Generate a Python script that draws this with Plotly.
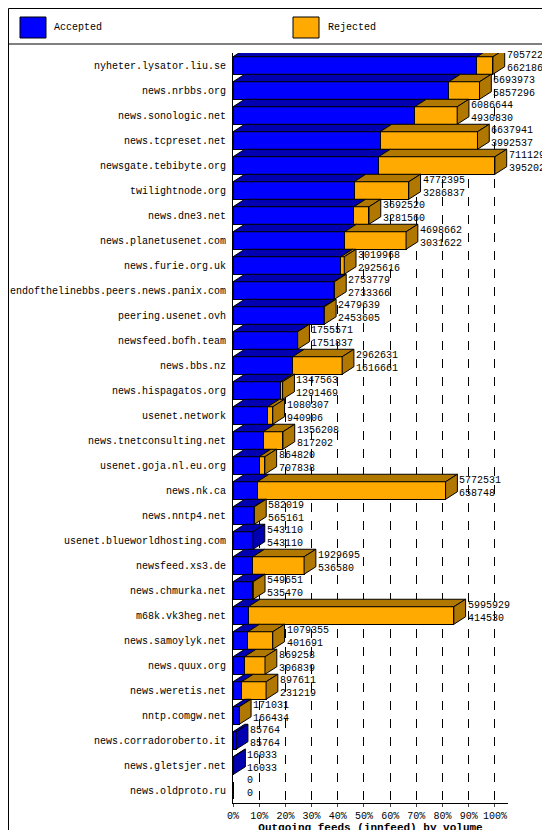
import plotly.graph_objects as go

names = ["nyheter.lysator.liu.se","news.nrbbs.org","news.sonologic.net","news.tcpreset.net","newsgate.tebibyte.org","twilightnode.org","news.dne3.net","news.planetusenet.com","news.furie.org.uk","endofthelinebbs.peers.news.panix.com","peering.usenet.ovh","newsfeed.bofh.team","news.bbs.nz","news.hispagatos.org","usenet.network","news.tnetconsulting.net","usenet.goja.nl.eu.org","news.nk.ca","news.nntp4.net","usenet.blueworldhosting.com","newsfeed.xs3.de","news.chmurka.net","m68k.vk3heg.net","news.samoylyk.net","news.quux.org","news.weretis.net","nntp.comgw.net","news.corradoroberto.it","news.gletsjer.net","news.oldproto.ru"]
total = [7057222,6693973,6086644,6637941,7111292,4772395,3692520,4698662,3019968,2753779,2479639,1755571,2962631,1347563,1080307,1356208,864820,5772531,582019,543110,1929695,549651,5995929,1079355,869258,897611,171031,85764,16033,0]
accepted = [6621860,5857296,4930830,3992537,3952021,3286837,3281560,3031622,2925616,2733366,2453605,1751837,1616661,1291469,940906,817202,707838,658748,565161,543110,536580,535470,414530,401691,306839,231219,166434,85764,16033,0]

mx = max(total)
acc_p = [a / mx * 100 for a in accepted]
rej_p = [(t - a) / mx * 100 for t, a in zip(total, accepted)]
tot_p = [t / mx * 100 for t in total]
idx = list(range(len(names)))
FONT = "Liberation Mono"
BLUE, BLUE_D = "#0000ff", "#0000b0"
ORNG, ORNG_D = "#ffaa00", "#b07800"

fig = go.Figure()
fig.add_bar(y=idx, x=acc_p, orientation="h", marker=dict(color=BLUE, line=dict(color="black", width=1)), width=0.7, name="Accepted")
fig.add_bar(y=idx, x=rej_p, orientation="h", marker=dict(color=ORNG, line=dict(color="black", width=1)), width=0.7, name="Rejected")

dx, dy, h = 4.5, 0.3, 0.35
shapes = []
def poly(pts, color):
    p = "M " + " L ".join(f"{x},{y}" for x, y in pts) + " Z"
    shapes.append(dict(type="path", path=p, xref="x", yref="y", fillcolor=color, line=dict(color="black", width=1), layer="above"))

for i in idx:
    yt = i - h
    yb = i + h
    if total[i] > 0:
        if acc_p[i] > 0:
            poly([(0, yt), (dx, yt - dy), (acc_p[i] + dx, yt - dy), (acc_p[i], yt)], BLUE_D)
        if rej_p[i] > 0:
            poly([(acc_p[i], yt), (acc_p[i] + dx, yt - dy), (tot_p[i] + dx, yt - dy), (tot_p[i], yt)], ORNG_D)
        side = ORNG_D if rej_p[i] > 0 else BLUE_D
        poly([(tot_p[i], yt), (tot_p[i] + dx, yt - dy), (tot_p[i] + dx, yb - dy), (tot_p[i], yb)], side)
    fig.add_annotation(x=tot_p[i] + dx, y=i - 0.15, text=f"{total[i]}<br>{accepted[i]}", showarrow=False,
                       xanchor="left", yanchor="middle", align="left", xshift=0,
                       font=dict(family=FONT, size=10, color="black"))

def px_x(px): return (px - 225) / 275
def px_y(py): return 1 + (45 - py) / 750
shapes.append(dict(type="rect", xref="paper", yref="paper", x0=px_x(12), x1=px_x(38), y0=px_y(30), y1=px_y(9), fillcolor=BLUE, line=dict(color="black", width=1)))
shapes.append(dict(type="rect", xref="paper", yref="paper", x0=px_x(285), x1=px_x(311), y0=px_y(30), y1=px_y(9), fillcolor=ORNG, line=dict(color="black", width=1)))
shapes.append(dict(type="line", xref="paper", yref="paper", x0=px_x(0), x1=px_x(550), y0=px_y(36), y1=px_y(36), line=dict(color="black", width=1)))
shapes.append(dict(type="rect", xref="paper", yref="paper", x0=px_x(0.5), x1=px_x(549.5), y0=px_y(829.5), y1=px_y(0.5), line=dict(color="black", width=1)))
fig.add_annotation(xref="paper", yref="paper", x=px_x(44), y=px_y(20), text="Accepted", showarrow=False, xanchor="left", yanchor="middle", font=dict(family=FONT, size=10))
fig.add_annotation(xref="paper", yref="paper", x=px_x(318), y=px_y(20), text="Rejected", showarrow=False, xanchor="left", yanchor="middle", font=dict(family=FONT, size=10))

fig.update_layout(
    barmode="stack", width=550, height=830, showlegend=False,
    margin=dict(l=225, r=50, t=45, b=35, autoexpand=False),
    paper_bgcolor="white", plot_bgcolor="white", shapes=shapes,
    font=dict(family=FONT, size=10, color="black"),
    xaxis=dict(range=[0, 105], tickvals=list(range(0, 101, 10)), ticktext=[f"{v}%" for v in range(0, 101, 10)],
               showgrid=True, gridcolor="black", griddash="dash", gridwidth=1, zeroline=False, automargin=False,
               showline=True, linecolor="black", ticks="outside", ticklen=3,
               title=dict(text="<b>Outgoing feeds (innfeed) by volume</b>", standoff=0, font=dict(family=FONT, size=11))),
    yaxis=dict(range=[29.5, -0.5], tickvals=idx, ticktext=names, showgrid=False, zeroline=False, automargin=False,
               showline=True, linecolor="black", ticks="", ticklabelstandoff=4, tickfont=dict(family=FONT, size=10)),
)
fig.write_html("out.html")
